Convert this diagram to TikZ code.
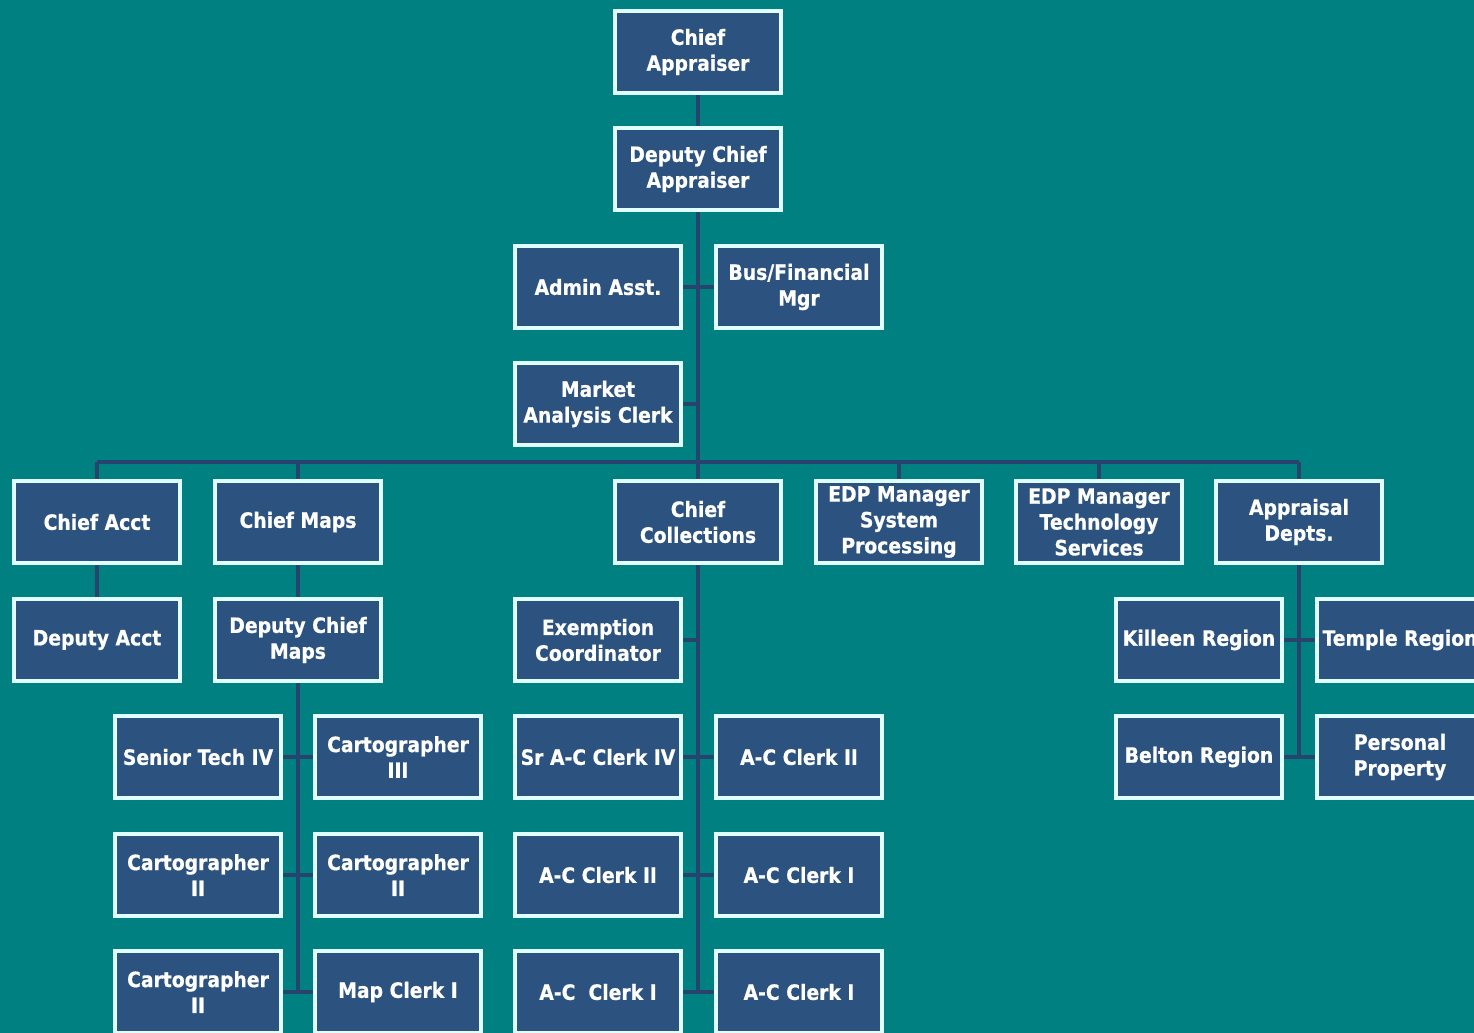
\documentclass[tikz,border=0pt]{standalone}
\usepackage{fontspec}
\setmainfont{DejaVu Sans}[FakeStretch=0.89,FakeBold=0.7]
\definecolor{tealback}{RGB}{0,128,128}
\definecolor{boxfill}{RGB}{44,83,128}
\definecolor{boxrim}{RGB}{224,255,255}
\definecolor{linkblue}{RGB}{38,68,110}
\pgfdeclarelayer{back}
\pgfsetlayers{back,main}
\begin{document}
\begin{tikzpicture}
[x=0.02cm,y=-0.02cm,
 boxdecorate/.style={shape=rectangle,draw=boxrim,fill=boxfill,line width=2.3pt,
   minimum width=3.32cm,minimum height=1.64cm,inner sep=1pt,align=center,
   text=white,font=\fontsize{12}{14.7}\selectfont\bfseries},%
 linkdecorate/.style={-,draw=linkblue,line width=2.8pt}]
\clip (0,0) rectangle (1474,1033);
%%% top of the chart
% nodes
\node (chief) at (698,52) [boxdecorate] {Chief\\Appraiser};
\node (dchief) at (698,169) [boxdecorate] {Deputy Chief\\Appraiser};
\node (admin) at (598,287) [boxdecorate] {Admin Asst.};
\node (busmgr) at (799,287) [boxdecorate] {Bus/Financial\\Mgr};
\node (market) at (598,404) [boxdecorate] {Market\\Analysis Clerk};
\coordinate (bus) at (698,462);
%%% department heads
\node (chacct) at (97,522) [boxdecorate] {Chief Acct};
\node (chmaps) at (298,522) [boxdecorate] {Chief Maps};
\node (chcoll) at (698,522) [boxdecorate] {Chief\\Collections};
\node (edpsys) at (899,522) [boxdecorate] {EDP Manager\\System\\Processing};
\node (edptech) at (1099,522) [boxdecorate] {EDP Manager\\Technology\\Services};
\node (apprd) at (1299,522) [boxdecorate] {Appraisal\\Depts.};
%%% accounting and maps
\node (dacct) at (97,640) [boxdecorate] {Deputy Acct};
\node (dmaps) at (298,640) [boxdecorate] {Deputy Chief\\Maps};
\node (srtech) at (198,757) [boxdecorate] {Senior Tech IV};
\node (cartiii) at (398,757) [boxdecorate] {Cartographer\\III};
\node (cartiia) at (198,875) [boxdecorate] {Cartographer\\II};
\node (cartiib) at (398,875) [boxdecorate] {Cartographer\\II};
\node (cartiic) at (198,992) [boxdecorate] {Cartographer\\II};
\node (mapclerk) at (398,992) [boxdecorate] {Map Clerk I};
%%% collections
\node (exempt) at (598,640) [boxdecorate] {Exemption\\Coordinator};
\node (srac) at (598,757) [boxdecorate] {Sr A-C Clerk IV};
\node (acii) at (799,757) [boxdecorate] {A-C Clerk II};
\node (aciib) at (598,875) [boxdecorate] {A-C Clerk II};
\node (aci) at (799,875) [boxdecorate] {A-C Clerk I};
\node (acib) at (598,992) [boxdecorate] {A-C\ \ Clerk I};
\node (acic) at (799,992) [boxdecorate] {A-C Clerk I};
%%% appraisal regions
\node (killeen) at (1199,640) [boxdecorate] {Killeen Region};
\node (temple) at (1400,640) [boxdecorate] {Temple Region};
\node (belton) at (1199,757) [boxdecorate] {Belton Region};
\node (personal) at (1400,757) [boxdecorate] {Personal\\Property};
% edges or lines
\begin{pgfonlayer}{back}
\fill[tealback] (0,0) rectangle (1474,1033);
\path
(chief) edge[linkdecorate] (dchief)
(dchief) edge[linkdecorate] (bus)
(admin) edge[linkdecorate] (busmgr)
(market) edge[linkdecorate] (market -| dchief)
(chacct |- bus) edge[linkdecorate] (apprd |- bus)
(chacct) edge[linkdecorate] (dacct)
(chacct) edge[linkdecorate] (chacct |- bus)
(chmaps) edge[linkdecorate] (chmaps |- bus)
(chcoll) edge[linkdecorate] (bus)
(edpsys) edge[linkdecorate] (edpsys |- bus)
(edptech) edge[linkdecorate] (edptech |- bus)
(apprd) edge[linkdecorate] (apprd |- bus);
%
\path
(chmaps) edge[linkdecorate] (chmaps |- mapclerk)
(srtech) edge[linkdecorate] (cartiii)
(cartiia) edge[linkdecorate] (cartiib)
(cartiic) edge[linkdecorate] (mapclerk);
%
\path
(chcoll) edge[linkdecorate] (chcoll |- acic)
(exempt) edge[linkdecorate] (exempt -| chcoll)
(srac) edge[linkdecorate] (acii)
(aciib) edge[linkdecorate] (aci)
(acib) edge[linkdecorate] (acic);
%
\path
(apprd) edge[linkdecorate] (apprd |- belton)
(killeen) edge[linkdecorate] (temple)
(belton) edge[linkdecorate] (personal);
\end{pgfonlayer}
\end{tikzpicture}
\end{document}
